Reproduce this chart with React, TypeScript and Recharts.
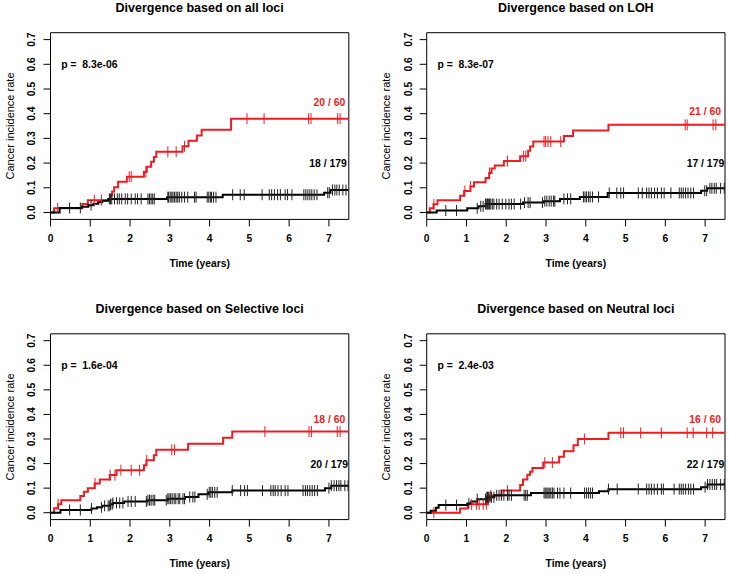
import React from "react";
import { ComposedChart, Line, Scatter, XAxis, YAxis, ReferenceArea } from "recharts";

type Pt = { t: number; y: number };

// ---------- Panel 1: all loci ----------
const allLociRed: Pt[] = [
  { t: 0, y: 0 }, { t: 0.09, y: 0.017 }, { t: 0.8, y: 0.034 }, { t: 0.94, y: 0.05 },
  { t: 1.5, y: 0.068 }, { t: 1.55, y: 0.085 }, { t: 1.6, y: 0.102 }, { t: 1.7, y: 0.124 },
  { t: 1.92, y: 0.145 }, { t: 2.35, y: 0.165 }, { t: 2.42, y: 0.185 }, { t: 2.53, y: 0.205 },
  { t: 2.6, y: 0.225 }, { t: 2.66, y: 0.246 }, { t: 3.32, y: 0.268 }, { t: 3.47, y: 0.29 },
  { t: 3.68, y: 0.312 }, { t: 3.8, y: 0.335 }, { t: 4.54, y: 0.38 }, { t: 7.5, y: 0.38 },
];
const allLociRedCensor = [0.18, 1.1, 1.28, 1.98, 2.03, 2.4, 2.95, 3.16, 3.37, 4.94, 5.37, 6.49, 6.55, 7.22, 7.28];
const allLociBlack: Pt[] = [
  { t: 0, y: 0 }, { t: 0.23, y: 0.018 }, { t: 0.78, y: 0.023 }, { t: 0.95, y: 0.029 },
  { t: 1.08, y: 0.035 }, { t: 1.2, y: 0.041 }, { t: 1.3, y: 0.048 }, { t: 1.45, y: 0.055 },
  { t: 2.93, y: 0.062 }, { t: 4.33, y: 0.072 }, { t: 6.88, y: 0.08 }, { t: 7.04, y: 0.091 },
  { t: 7.5, y: 0.091 },
];
const allLociBlackCensor = [
  0.48, 0.75, 1.02, 1.48, 1.51, 1.54, 1.61, 1.68, 1.73, 1.79, 1.88, 1.94, 2.03, 2.13, 2.19, 2.28,
  2.45, 2.49, 2.53, 2.57, 2.61, 2.95, 2.97, 3.01, 3.05, 3.08, 3.12, 3.16, 3.2, 3.24, 3.3, 3.37,
  3.45, 3.62, 3.66, 3.94, 3.98, 4.02, 4.05, 4.1, 4.16, 4.58, 4.77, 4.87, 5.32, 5.5, 5.56, 5.63,
  5.71, 5.78, 5.9, 5.96, 6.07, 6.37, 6.42, 6.47, 6.52, 6.57, 6.63, 6.7, 6.97, 7.01, 7.09, 7.15,
  7.2, 7.26, 7.35, 7.43,
];

// ---------- Panel 2: LOH ----------
const lohRed: Pt[] = [
  { t: 0, y: 0 }, { t: 0.08, y: 0.017 }, { t: 0.17, y: 0.033 }, { t: 0.27, y: 0.05 },
  { t: 0.84, y: 0.068 }, { t: 0.94, y: 0.087 }, { t: 1.1, y: 0.105 }, { t: 1.19, y: 0.122 },
  { t: 1.48, y: 0.14 }, { t: 1.57, y: 0.16 }, { t: 1.63, y: 0.178 }, { t: 1.71, y: 0.19 },
  { t: 1.94, y: 0.208 }, { t: 2.35, y: 0.228 }, { t: 2.55, y: 0.25 }, { t: 2.6, y: 0.267 },
  { t: 2.68, y: 0.287 }, { t: 3.45, y: 0.31 }, { t: 3.68, y: 0.332 }, { t: 4.57, y: 0.355 },
  { t: 7.5, y: 0.355 },
];
const lohRedCensor = [0.18, 0.96, 1.1, 1.58, 2.03, 2.43, 2.49, 2.95, 2.99, 3.05, 3.12, 3.37, 6.5, 6.55, 7.2, 7.27];
const lohBlack: Pt[] = [
  { t: 0, y: 0 }, { t: 0.25, y: 0.008 }, { t: 1.02, y: 0.017 }, { t: 1.3, y: 0.025 },
  { t: 1.48, y: 0.034 }, { t: 2.42, y: 0.04 }, { t: 2.95, y: 0.046 }, { t: 3.35, y: 0.055 },
  { t: 3.85, y: 0.063 }, { t: 4.55, y: 0.079 }, { t: 6.9, y: 0.088 }, { t: 7.05, y: 0.098 },
  { t: 7.5, y: 0.098 },
];
const lohBlackCensor = [
  0.48, 0.75, 1.27, 1.36, 1.42, 1.48, 1.51, 1.53, 1.55, 1.58, 1.61, 1.65, 1.69, 1.76, 1.82, 1.9,
  1.99, 2.07, 2.13, 2.2, 2.36, 2.46, 2.55, 2.6, 2.91, 2.97, 3.02, 3.08, 3.13, 3.19, 3.22, 3.45,
  3.54, 3.62, 3.94, 3.98, 4.02, 4.07, 4.11, 4.17, 4.32, 4.59, 4.78, 4.88, 4.95, 5.32, 5.42, 5.53,
  5.59, 5.65, 5.73, 5.8, 5.9, 5.97, 6.14, 6.35, 6.4, 6.45, 6.51, 6.57, 6.64, 6.71, 6.99, 7.04,
  7.12, 7.17, 7.23, 7.28, 7.39, 7.48,
];

// ---------- Panel 3: Selective loci ----------
const selectiveRed: Pt[] = [
  { t: 0, y: 0 }, { t: 0.09, y: 0.018 }, { t: 0.19, y: 0.034 }, { t: 0.27, y: 0.051 },
  { t: 0.75, y: 0.068 }, { t: 0.84, y: 0.085 }, { t: 0.94, y: 0.1 }, { t: 1.11, y: 0.119 },
  { t: 1.24, y: 0.135 }, { t: 1.49, y: 0.153 }, { t: 1.66, y: 0.173 }, { t: 2.35, y: 0.193 },
  { t: 2.41, y: 0.213 }, { t: 2.6, y: 0.234 }, { t: 2.66, y: 0.256 }, { t: 3.46, y: 0.281 },
  { t: 4.34, y: 0.305 }, { t: 4.57, y: 0.33 }, { t: 7.5, y: 0.33 },
];
const selectiveRedCensor = [0.19, 1.12, 1.5, 1.62, 1.77, 2.03, 2.24, 2.42, 3.05, 3.12, 5.39, 6.5, 6.56, 7.21, 7.28];
const selectiveBlack: Pt[] = [
  { t: 0, y: 0 }, { t: 0.25, y: 0.011 }, { t: 1.03, y: 0.017 }, { t: 1.17, y: 0.022 },
  { t: 1.3, y: 0.028 }, { t: 1.5, y: 0.034 }, { t: 1.57, y: 0.04 }, { t: 1.85, y: 0.046 },
  { t: 2.43, y: 0.051 }, { t: 2.95, y: 0.057 }, { t: 3.38, y: 0.064 }, { t: 3.72, y: 0.075 },
  { t: 3.97, y: 0.083 }, { t: 4.57, y: 0.09 }, { t: 6.9, y: 0.1 }, { t: 7.06, y: 0.11 },
  { t: 7.5, y: 0.11 },
];
const selectiveBlackCensor = [
  0.48, 0.75, 1.03, 1.28, 1.36, 1.45, 1.49, 1.51, 1.55, 1.57, 1.66, 1.74, 1.82, 1.95, 2.03, 2.13,
  2.41, 2.45, 2.49, 2.53, 2.58, 2.62, 2.91, 2.95, 2.98, 3.02, 3.06, 3.11, 3.15, 3.21, 3.25, 3.33,
  3.37, 3.5, 3.58, 3.63, 3.94, 3.99, 4.03, 4.07, 4.13, 4.19, 4.57, 4.78, 4.88, 4.95, 5.33, 5.54,
  5.6, 5.65, 5.72, 5.8, 5.9, 5.97, 6.35, 6.41, 6.46, 6.52, 6.58, 6.64, 6.71, 7.0, 7.06, 7.13,
  7.19, 7.25, 7.3, 7.4, 7.48,
];

// ---------- Panel 4: Neutral loci ----------
const neutralRed: Pt[] = [
  { t: 0, y: 0 }, { t: 0.84, y: 0.017 }, { t: 1.03, y: 0.034 }, { t: 1.52, y: 0.052 },
  { t: 1.6, y: 0.07 }, { t: 1.88, y: 0.09 }, { t: 2.35, y: 0.113 }, { t: 2.42, y: 0.135 },
  { t: 2.53, y: 0.155 }, { t: 2.6, y: 0.167 }, { t: 2.66, y: 0.182 }, { t: 2.93, y: 0.204 },
  { t: 3.33, y: 0.228 }, { t: 3.45, y: 0.25 }, { t: 3.69, y: 0.275 }, { t: 3.8, y: 0.3 },
  { t: 4.57, y: 0.325 }, { t: 7.5, y: 0.325 },
];
const neutralRedCensor = [0.18, 1.13, 1.25, 1.32, 1.42, 1.5, 1.55, 1.61, 2.03, 2.97, 3.16, 3.97, 4.88, 4.95, 5.38, 5.9, 6.55, 6.7, 7.04, 7.19];
const neutralBlack: Pt[] = [
  { t: 0, y: 0 }, { t: 0.1, y: 0.008 }, { t: 0.23, y: 0.02 }, { t: 0.3, y: 0.031 },
  { t: 1.02, y: 0.038 }, { t: 1.12, y: 0.046 }, { t: 1.27, y: 0.055 }, { t: 1.5, y: 0.063 },
  { t: 1.7, y: 0.071 }, { t: 2.62, y: 0.08 }, { t: 4.33, y: 0.087 }, { t: 4.57, y: 0.096 },
  { t: 6.9, y: 0.104 }, { t: 7.06, y: 0.115 }, { t: 7.5, y: 0.115 },
];
const neutralBlackCensor = [
  0.48, 0.75, 1.06, 1.27, 1.48, 1.51, 1.53, 1.55, 1.59, 1.63, 1.69, 1.76, 1.82, 1.88, 1.94, 2.03,
  2.07, 2.13, 2.45, 2.49, 2.53, 2.95, 2.98, 3.02, 3.05, 3.08, 3.12, 3.16, 3.2, 3.29, 3.35, 3.45,
  3.62, 3.97, 4.02, 4.07, 4.12, 4.17, 4.57, 4.79, 5.32, 5.53, 5.59, 5.65, 5.72, 5.8, 5.9, 5.95,
  6.22, 6.35, 6.4, 6.45, 6.51, 6.58, 6.64, 6.71, 7.0, 7.06, 7.12, 7.18, 7.24, 7.29, 7.39, 7.48,
];

// ---------- Labels ----------
const titles = [
  "Divergence based on all loci",
  "Divergence based on LOH",
  "Divergence based on Selective loci",
  "Divergence based on Neutral loci",
];
const pValues = ["p =  8.3e-06", "p =  8.3e-07", "p =  1.6e-04", "p =  2.4e-03"];
const redCounts = ["20 / 60", "21 / 60", "18 / 60", "16 / 60"];
const blackCounts = ["18 / 179", "17 / 179", "20 / 179", "22 / 179"];
const redLabelY = [0.447, 0.407, 0.378, 0.378];
const blackLabelY = [0.2, 0.2, 0.196, 0.196];
const redLabelX = [7.41, 7.4, 7.41, 7.4];
const blackLabelX = [7.45, 7.48, 7.48, 7.48];
const xTicks = [0, 1, 2, 3, 4, 5, 6, 7];
const yTicks = [0, 0.1, 0.2, 0.3, 0.4, 0.5, 0.6, 0.7];
const xLabel = "Time (years)";
const yLabel = "Cancer incidence rate";

const RED = "#ec1c24";
const FONT = '"Liberation Sans", Arial, Helvetica, sans-serif';
const YW = 40;
const XH = 30;
const X_DOMAIN: [number, number] = [0, 7.5];
const Y_DOMAIN: [number, number] = [-0.028, 0.728];

function levelAt(steps: Pt[], t: number) {
  let y = 0;
  for (const s of steps) if (s.t <= t) y = s.y;
  return y;
}
function censorPoints(times: number[], steps: Pt[]): Pt[] {
  return times.map((t) => ({ t, y: levelAt(steps, t) }));
}

const series = [
  { red: allLociRed, redC: allLociRedCensor, black: allLociBlack, blackC: allLociBlackCensor },
  { red: lohRed, redC: lohRedCensor, black: lohBlack, blackC: lohBlackCensor },
  { red: selectiveRed, redC: selectiveRedCensor, black: selectiveBlack, blackC: selectiveBlackCensor },
  { red: neutralRed, redC: neutralRedCensor, black: neutralBlack, blackC: neutralBlackCensor },
];

const layouts = [
  { ox: 0, oy: 0, w: 364, h: 287, L: 50.5, T: 32.7, R: 348.8, B: 219.4 },
  { ox: 364, oy: 0, w: 365, h: 287, L: 426.7, T: 32.7, R: 725, B: 219.4 },
  { ox: 0, oy: 287, w: 364, h: 286, L: 50.5, T: 333.8, R: 348.8, B: 519.6 },
  { ox: 364, oy: 287, w: 365, h: 286, L: 426.7, T: 333.8, R: 725, B: 519.6 },
];

const XTick = (props: any) => {
  const { x, y, payload } = props;
  return (
    <text x={x} y={y + 10} textAnchor="middle" dominantBaseline="central"
      fontFamily={FONT} fontWeight="bold" fontSize={10.3} fill="#000">
      {String(payload.value)}
    </text>
  );
};
const YTick = (props: any) => {
  const { x, y, payload } = props;
  const cx = x - 9.5;
  return (
    <text x={cx} y={y} textAnchor="middle" dominantBaseline="central"
      transform={`rotate(-90 ${cx} ${y})`}
      fontFamily={FONT} fontWeight="bold" fontSize={10.3} fill="#000">
      {Number(payload.value).toFixed(1)}
    </text>
  );
};

const censorShape = (color: string) => (p: any) => (
  <line x1={p.cx} x2={p.cx} y1={p.cy - 5.5} y2={p.cy + 5.5} stroke={color} strokeWidth={1} />
);
const textShape = (txt: string, color: string, anchor: "start" | "end") => (p: any) => (
  <text x={p.cx} y={p.cy} textAnchor={anchor} dominantBaseline="central"
    style={{ whiteSpace: "pre" }} xmlSpace="preserve"
    fontFamily={FONT} fontWeight="bold" fontSize={10.4} fill={color}>
    {txt}
  </text>
);

function Panel({ i }: { i: number }) {
  const lay = layouts[i];
  const s = series[i];
  const margin = {
    top: lay.T - lay.oy,
    right: lay.ox + lay.w - lay.R,
    bottom: lay.oy + lay.h - lay.B - XH,
    left: lay.L - lay.ox - YW,
  };
  const cx = (lay.L + lay.R) / 2 - lay.ox;
  const cy = (lay.T + lay.B) / 2 - lay.oy;
  const textBase: React.CSSProperties = {
    position: "absolute",
    whiteSpace: "nowrap",
    lineHeight: 1,
    fontFamily: FONT,
    color: "#000",
  };
  return (
    <div style={{ position: "absolute", left: lay.ox, top: lay.oy, width: lay.w, height: lay.h }}>
      <ComposedChart width={lay.w} height={lay.h} margin={margin}>
        <XAxis type="number" dataKey="t" domain={X_DOMAIN} ticks={xTicks} allowDataOverflow
          interval={0} axisLine={false} tickLine={{ stroke: "#000", strokeWidth: 1 }}
          tickSize={7} tickMargin={2} height={XH} tick={<XTick />} />
        <YAxis type="number" dataKey="y" domain={Y_DOMAIN} ticks={yTicks} allowDataOverflow
          interval={0} axisLine={false} tickLine={{ stroke: "#000", strokeWidth: 1 }}
          tickSize={7} tickMargin={2} width={YW} tick={<YTick />} />
        <ReferenceArea x1={X_DOMAIN[0]} x2={X_DOMAIN[1]} y1={Y_DOMAIN[0]} y2={Y_DOMAIN[1]}
          fill="none" stroke="#000" strokeWidth={1} ifOverflow="visible" />
        <Line data={s.red} dataKey="y" type="stepAfter" stroke={RED} strokeWidth={2}
          dot={false} activeDot={false} isAnimationActive={false} />
        <Scatter data={censorPoints(s.redC, s.red)} dataKey="y" shape={censorShape(RED)}
          isAnimationActive={false} />
        <Line data={s.black} dataKey="y" type="stepAfter" stroke="#000" strokeWidth={2}
          dot={false} activeDot={false} isAnimationActive={false} />
        <Scatter data={censorPoints(s.blackC, s.black)} dataKey="y" shape={censorShape("#222")}
          isAnimationActive={false} />
        <Scatter data={[{ t: 0.27, y: 0.6 }]} dataKey="y" shape={textShape(pValues[i], "#000", "start")}
          isAnimationActive={false} />
        <Scatter data={[{ t: redLabelX[i], y: redLabelY[i] }]} dataKey="y"
          shape={textShape(redCounts[i], RED, "end")} isAnimationActive={false} />
        <Scatter data={[{ t: blackLabelX[i], y: blackLabelY[i] }]} dataKey="y"
          shape={textShape(blackCounts[i], "#000", "end")} isAnimationActive={false} />
      </ComposedChart>
      <div style={{ ...textBase, left: cx, top: lay.T - lay.oy - 25, transform: "translate(-50%, -50%)",
        fontWeight: "bold", fontSize: 12.5 }}>
        {titles[i]}
      </div>
      <div style={{ ...textBase, left: cx, top: lay.B - lay.oy + 44.5, transform: "translate(-50%, -50%)",
        fontWeight: "bold", fontSize: 10.3 }}>
        {xLabel}
      </div>
      <div style={{ ...textBase, left: lay.L - lay.ox - 41, top: cy,
        transform: "translate(-50%, -50%) rotate(-90deg)", fontSize: 11 }}>
        {yLabel}
      </div>
    </div>
  );
}

export default function App() {
  return (
    <div style={{ position: "absolute", left: 0, top: 0, width: 729, height: 573, background: "#fff" }}>
      {[0, 1, 2, 3].map((i) => (
        <Panel key={i} i={i} />
      ))}
    </div>
  );
}
